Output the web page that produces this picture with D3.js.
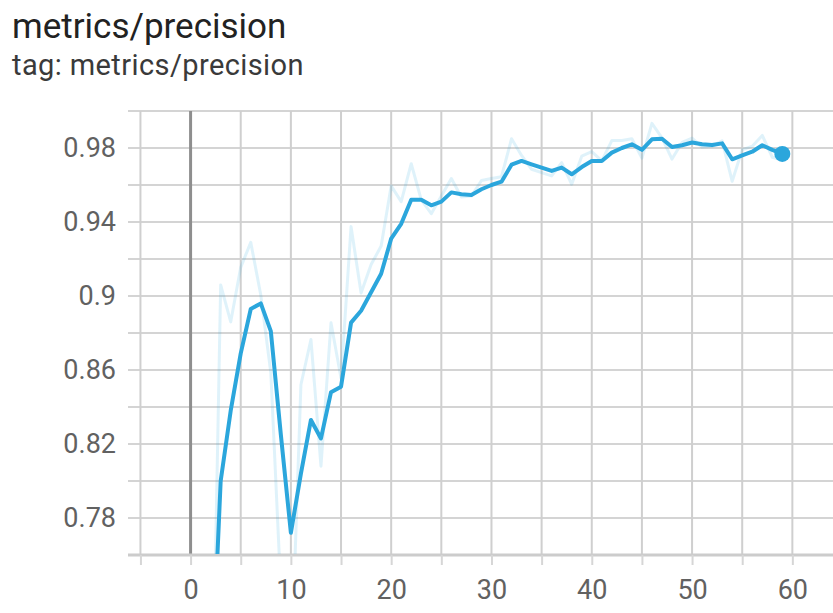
<!DOCTYPE html>
<html>
<head>
<meta charset="utf-8">
<script src="https://cdn.jsdelivr.net/npm/d3@7"></script>
<style>
  html, body { margin: 0; padding: 0; background: #ffffff; }
  svg { display: block; font-family: Roboto, "Noto Sans", sans-serif; }
</style>
</head>
<body>
<svg id="chart" width="833" height="613"></svg>
<script>
// Training run: precision per epoch (raw value and smoothed curve)
const epochs = d3.range(0, 60);

const rawPrecision = [
  0.40, 0.64, 0.62, 0.906, 0.886, 0.9155, 0.929, 0.9005, 0.8585, 0.741,
  0.6925, 0.852, 0.8765, 0.808, 0.8855, 0.8555, 0.9375, 0.9016, 0.917, 0.927,
  0.9595, 0.951, 0.9715, 0.952, 0.9445, 0.954, 0.9635, 0.9535, 0.954, 0.9624,
  0.9635, 0.9645, 0.985, 0.976, 0.9685, 0.9667, 0.9649, 0.9721, 0.9604, 0.9756,
  0.978, 0.973, 0.984, 0.984, 0.985, 0.9745, 0.9933, 0.9855, 0.974, 0.983,
  0.9853, 0.9805, 0.981, 0.9839, 0.962, 0.979, 0.981, 0.9868, 0.975, 0.9735
];

const smoothedPrecision = [
  0.40, 0.55, 0.677, 0.800, 0.838, 0.869, 0.893, 0.896, 0.881, 0.825,
  0.772, 0.804, 0.833, 0.823, 0.848, 0.851, 0.8856, 0.892, 0.902, 0.912,
  0.931, 0.939, 0.952, 0.952, 0.949, 0.951, 0.956, 0.955, 0.9546, 0.9577,
  0.960, 0.9618, 0.971, 0.973, 0.9712, 0.9694, 0.9676, 0.9694, 0.9658, 0.9697,
  0.973, 0.973, 0.9775, 0.980, 0.982, 0.979, 0.9847, 0.985, 0.9805, 0.9815,
  0.983, 0.982, 0.9816, 0.9825, 0.9739, 0.976, 0.978, 0.9815, 0.979, 0.9768
];

const xTickValues = [0, 10, 20, 30, 40, 50, 60];
const yTickValues = [0.78, 0.82, 0.86, 0.9, 0.94, 0.98];
const xGridValues = d3.range(-5, 70, 5);
const yGridValues = d3.range(0.78, 1.001, 0.02);

const titleText = "metrics/precision";
const tagText = "tag: metrics/precision";

const svg = d3.select("#chart");

const plot = { left: 128, right: 842, top: 111, bottom: 555 };

const x = d3.scaleLinear().domain([-6.24, 64.95]).range([plot.left, plot.right]);
const y = d3.scaleLinear().domain([0.76, 1.0]).range([plot.bottom, plot.top]);

const lineColor = "#2ba6dc";

// Titles
svg.append("text")
  .attr("x", 12).attr("y", 38)
  .attr("font-size", 35).attr("fill", "#222222")
  .text(titleText);
svg.append("text")
  .attr("x", 12).attr("y", 75)
  .attr("font-size", 29).attr("letter-spacing", 0.4).attr("fill", "#3a3a3a")
  .text(tagText);

// Grid
const grid = svg.append("g");
grid.selectAll("line.h").data(yGridValues).join("line")
  .attr("class", "h")
  .attr("x1", plot.left).attr("x2", 833)
  .attr("y1", d => y(d)).attr("y2", d => y(d))
  .attr("stroke", "#d4d4d4").attr("stroke-width", 2);
grid.selectAll("line.v").data(xGridValues).join("line")
  .attr("class", "v")
  .attr("x1", d => x(d)).attr("x2", d => x(d))
  .attr("y1", plot.top).attr("y2", plot.bottom)
  .attr("stroke", d => d === 0 ? "#8e8e8e" : "#cfcfcf")
  .attr("stroke-width", d => d === 0 ? 3 : 2);

// X axis (bottom)
const xAxis = d3.axisBottom(x)
  .tickValues(xGridValues)
  .tickSize(10)
  .tickFormat(d => xTickValues.includes(d) ? d3.format("d")(d) : "");
const gx = svg.append("g")
  .attr("transform", `translate(0,${plot.bottom})`)
  .call(xAxis);
gx.select(".domain").attr("stroke", "#cccccc").attr("stroke-width", 3)
  .attr("d", `M${plot.left},0H833`);
gx.selectAll(".tick line").attr("stroke", "#d6d6d6").attr("stroke-width", 2);
gx.selectAll(".tick text")
  .attr("font-size", 27).attr("fill", "#616161")
  .attr("font-family", "Roboto, sans-serif")
  .attr("dy", "1.15em");

// Y axis labels
const yAxis = d3.axisLeft(y)
  .tickValues(yTickValues)
  .tickSize(0)
  .tickPadding(0)
  .tickFormat(d3.format(""));
const gy = svg.append("g")
  .attr("transform", `translate(116,0)`)
  .call(yAxis);
gy.select(".domain").remove();
gy.selectAll(".tick text")
  .attr("font-size", 27).attr("fill", "#616161")
  .attr("font-family", "Roboto, sans-serif");

// Lines, clipped to the plotting area
svg.append("clipPath").attr("id", "plot-clip")
  .append("rect")
  .attr("x", plot.left).attr("y", plot.top - 12)
  .attr("width", plot.right - plot.left).attr("height", plot.bottom - plot.top + 11);

const lines = svg.append("g").attr("clip-path", "url(#plot-clip)");

const line = d3.line().x((d, i) => x(epochs[i])).y(d => y(d));

lines.append("path")
  .datum(rawPrecision)
  .attr("d", line)
  .attr("fill", "none")
  .attr("stroke", lineColor)
  .attr("stroke-opacity", 0.15)
  .attr("stroke-width", 3)
  .attr("stroke-linejoin", "round");

lines.append("path")
  .datum(smoothedPrecision)
  .attr("d", line)
  .attr("fill", "none")
  .attr("stroke", lineColor)
  .attr("stroke-width", 4)
  .attr("stroke-linejoin", "round");

const last = epochs.length - 1;
lines.append("circle")
  .attr("cx", x(epochs[last]))
  .attr("cy", y(smoothedPrecision[last]))
  .attr("r", 8)
  .attr("fill", lineColor);
</script>
</body>
</html>
